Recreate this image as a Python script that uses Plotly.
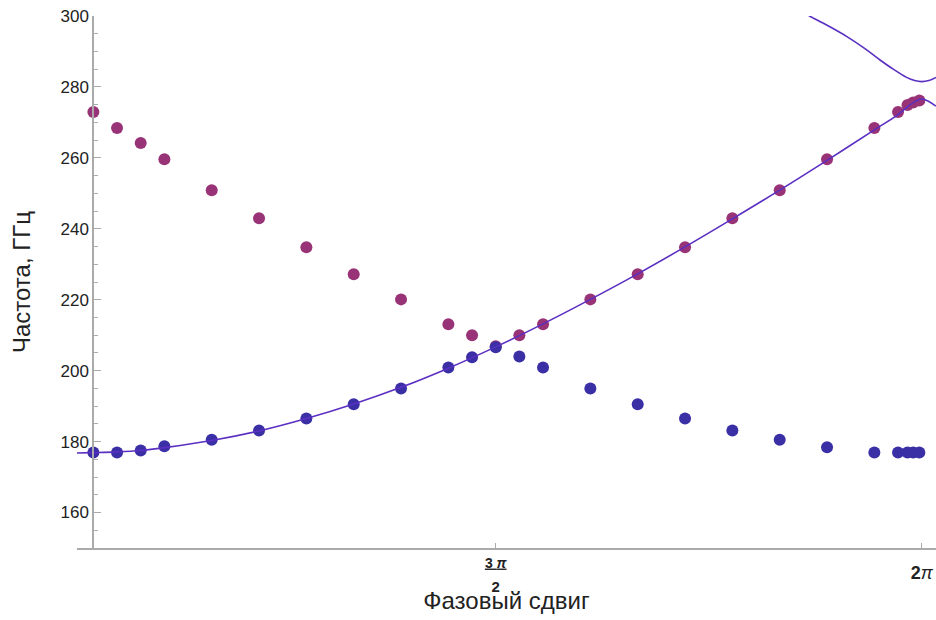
import numpy as np
import plotly.graph_objects as go

# ---- data (phase shift in degrees, frequency in GHz) ----
blue_deg = [185, 190, 195, 200, 210, 220, 230, 240, 250, 260, 265, 270,
            275, 280, 290, 300, 310, 320, 330, 340, 350, 355, 357, 358.2, 359.5]
blue_ghz = [176.9, 176.9, 177.5, 178.7, 180.5, 183.1, 186.5, 190.5, 195.0, 200.9, 203.8, 206.6,
            204.0, 200.9, 195.0, 190.5, 186.5, 183.1, 180.5, 178.4, 176.9, 176.9, 176.9, 176.9, 176.9]

mag_deg = [185, 190, 195, 200, 210, 220, 230, 240, 250, 260, 265, 270,
           275, 280, 290, 300, 310, 320, 330, 340, 350, 355, 357, 358.2, 359.5]
mag_ghz = [272.9, 268.4, 264.2, 259.6, 250.9, 243.0, 234.8, 227.2, 220.1, 213.1, 210.0, 206.9,
           210.0, 213.1, 220.1, 227.2, 234.8, 243.0, 250.9, 259.6, 268.4, 272.9, 274.9, 275.6, 276.2]

lower_deg = [181.5, 185, 190, 195, 200, 210, 220, 230, 240, 250, 260, 270,
             280, 290, 300, 310, 320, 330, 340, 350, 355, 357, 358.5, 360, 361.5, 363]
lower_ghz = [176.8, 176.9, 177.1, 177.5, 178.3, 180.3, 183.0, 186.5, 190.6, 195.3, 200.7, 206.7,
             213.2, 220.1, 227.3, 234.9, 242.8, 250.9, 259.3, 267.9, 272.2, 274.4, 275.8, 276.6, 275.9, 274.6]

upper_deg = [335, 336.3, 340, 344.2, 348, 351.2, 354, 356.8, 358.5, 360, 361.5, 363]
upper_ghz = [301.0, 300.0, 297.4, 294.2, 290.8, 287.6, 285.0, 282.7, 281.8, 281.5, 281.8, 282.7]

tick_a_pi = [1.5]
tick_a_text = ["<span style='font-size:14px'><b><u>3 <i>π</i></u></b></span><br><span style='font-size:15px'><b>2</b></span>"]
tick_b_pi = [2.0]
tick_b_text = ["<b>2</b><i>π</i>"]

rad = np.radians

fig = go.Figure()
fig.add_trace(go.Scatter(x=rad(mag_deg), y=mag_ghz, mode="markers",
                         marker=dict(size=12, color="#993378"), showlegend=False))
fig.add_trace(go.Scatter(x=rad(blue_deg), y=blue_ghz, mode="markers",
                         marker=dict(size=12, color="#3B2FA6"), showlegend=False))
fig.add_trace(go.Scatter(x=rad(lower_deg), y=lower_ghz, mode="lines", line_shape="spline",
                         line=dict(color="#5A2FC2", width=1.6), showlegend=False))
fig.add_trace(go.Scatter(x=rad(upper_deg), y=upper_ghz, mode="lines", line_shape="spline",
                         xaxis="x2", yaxis="y",
                         line=dict(color="#5A2FC2", width=1.6), showlegend=False))

axis_grey = "#aaaaaa"
xr = [rad(181.54), rad(363.02)]
fig.update_layout(
    width=936, height=620,
    margin=dict(l=77, r=0, t=16, b=72),
    plot_bgcolor="white", paper_bgcolor="white",
    font=dict(family="Liberation Sans, Arial, sans-serif", color="#222222"),
    xaxis=dict(
        range=xr,
        tickvals=[v * np.pi for v in tick_a_pi], ticktext=tick_a_text,
        ticks="inside", ticklen=5, tickcolor=axis_grey,
        showline=True, linecolor=axis_grey, linewidth=1.5,
        showgrid=False, zeroline=False,
        ticklabelstandoff=-5,
        tickfont=dict(size=19, color="#222222"),
    ),
    xaxis2=dict(
        range=xr, overlaying="x", side="bottom", anchor="y",
        tickvals=[v * np.pi for v in tick_b_pi], ticktext=tick_b_text,
        ticks="inside", ticklen=5, tickcolor=axis_grey,
        showline=False, showgrid=False, zeroline=False,
        ticklabelstandoff=12,
        tickfont=dict(size=18, color="#222222"),
        title=dict(text="Фазовый сдвиг", font=dict(size=24, color="#222222"), standoff=10),
    ),
    yaxis=dict(
        range=[150, 300], anchor="free", position=16 / 859,
        tick0=0, dtick=20,
        ticks="inside", ticklen=7, tickcolor=axis_grey,
        minor=dict(dtick=5, ticks="inside", ticklen=4, tickcolor=axis_grey),
        showline=True, linecolor=axis_grey, linewidth=1.5,
        showgrid=False, zeroline=False,
        tickfont=dict(size=17, color="#222222"),
        title=dict(text="Частота, ГГц", font=dict(size=24, color="#222222"), standoff=22),
    ),
)

fig.write_html("out.html")
